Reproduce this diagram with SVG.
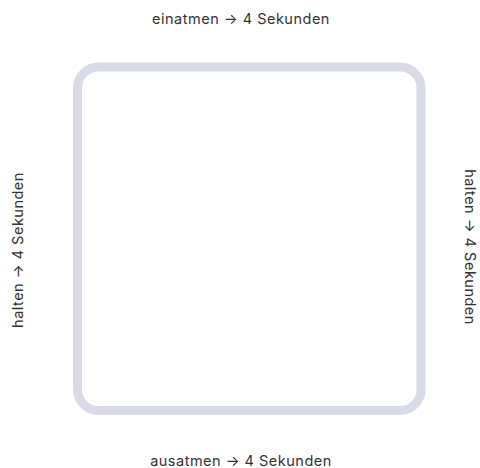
<svg xmlns="http://www.w3.org/2000/svg" width="480" height="468" viewBox="0 0 480 468">
<style>
.lbl{font-family:Inter,"Liberation Sans",sans-serif;font-size:14.5px;letter-spacing:0.5px;fill:#333;text-anchor:middle}
</style>
<rect width="480" height="468" fill="#fff"/>
<g id="box"><rect x="77.5" y="67" width="343.5" height="343.5" rx="21" fill="none" stroke="#d9dbe9" stroke-width="9"/></g>
<g id="top"><text class="lbl" x="241" y="24">einatmen → 4 Sekunden</text></g>
<g id="bottom"><text class="lbl" x="241" y="466">ausatmen → 4 Sekunden</text></g>
<g id="left"><text class="lbl" transform="translate(23.3,250) rotate(-90)">halten → 4 Sekunden</text></g>
<g id="right"><text class="lbl" transform="translate(464.5,247) rotate(90)">halten → 4 Sekunden</text></g>
</svg>
